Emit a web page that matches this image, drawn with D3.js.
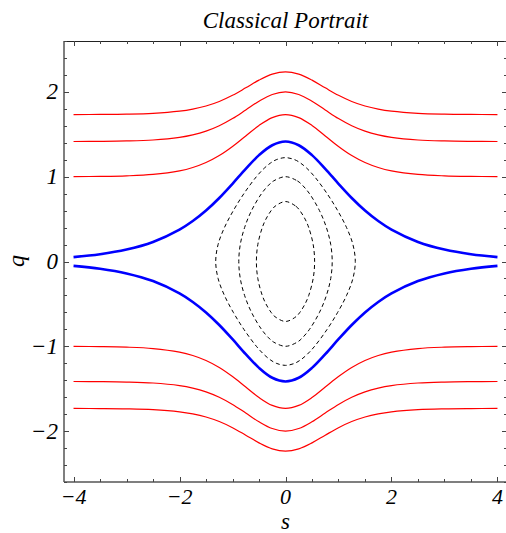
<!DOCTYPE html>
<html><head><meta charset="utf-8">
<script src="https://cdn.jsdelivr.net/npm/d3@7"></script>
<style>body{margin:0;background:#fff}svg{display:block}</style>
</head><body>
<svg id="c" width="506" height="533"></svg>
<script>
// ---- data ----
const title = "Classical Portrait";
const xLabel = "s", yLabel = "q";
const xTicks = [-4, -2, 0, 2, 4];
const yTicks = [-2, -1, 0, 1, 2];
const sGrid = [-4,-3.5,-3,-2.5,-2,-1.75,-1.5,-1.25,-1,-0.75,-0.5,-0.25,0,0.25,0.5,0.75,1,1.25,1.5,1.75,2,2.5,3,3.5,4];
// open orbits (upper half); lower half is the mirror image q -> -q
const qRed1 = [1.0013,1.0036,1.0098,1.0262,1.0683,1.1080,1.1668,1.2493,1.3565,1.4809,1.6040,1.6971,1.7321,1.6971,1.6040,1.4809,1.3565,1.2493,1.1668,1.1080,1.0683,1.0262,1.0098,1.0036,1.0013];
const qRed2 = [1.4152,1.4168,1.4212,1.4329,1.4633,1.4925,1.5367,1.6003,1.6852,1.7870,1.8902,1.9698,2.0000,1.9698,1.8902,1.7870,1.6852,1.6003,1.5367,1.4925,1.4633,1.4329,1.4212,1.4168,1.4152];
const qRed3 = [1.7328,1.7342,1.7377,1.7473,1.7724,1.7966,1.8334,1.8870,1.9596,2.0477,2.1384,2.2091,2.2361,2.2091,2.1384,2.0477,1.9596,1.8870,1.8334,1.7966,1.7724,1.7473,1.7377,1.7342,1.7328];
const qSep  = [0.0518,0.0853,0.1405,0.2306,0.3759,0.4771,0.6012,0.7489,0.9165,1.0923,1.2541,1.3712,1.4142,1.3712,1.2541,1.0923,0.9165,0.7489,0.6012,0.4771,0.3759,0.2306,0.1405,0.0853,0.0518];
// closed orbits: first-quadrant points [s, q], from q-axis to s-axis
const loop1 = [[0,1.2247],[0.1749,1.2],[0.2853,1.16],[0.4010,1.1],[0.5493,1.0],[0.7853,0.8],[0.9845,0.6],[1.1524,0.4],[1.2723,0.2],[1.3170,0]];
const loop2 = [[0,1.0],[0.2244,0.95],[0.3186,0.9],[0.4529,0.8],[0.6412,0.6],[0.7720,0.4],[0.8534,0.2],[0.8814,0]];
const loop3 = [[0,0.7071],[0.1995,0.65],[0.2711,0.6],[0.3695,0.5],[0.4384,0.4],[0.5224,0.2],[0.5493,0]];

const svg = d3.select("#c");
const L = 64, R = 507, T = 41, B = 482;
const x = d3.scaleLinear().domain([-4.18, 4.18]).range([L, R]);
const y = d3.scaleLinear().domain([-2.6, 2.6]).range([B, T]);
const serif = "'Liberation Serif','Times New Roman',serif";

svg.append("defs").append("clipPath").attr("id","clip").append("rect")
  .attr("x",L).attr("y",T).attr("width",R-L).attr("height",B-T);
const plot = svg.append("g").attr("clip-path","url(#clip)");

const line = d3.line().x(d=>x(d[0])).y(d=>y(d[1])).curve(d3.curveCatmullRom);
const lineClosed = d3.line().x(d=>x(d[0])).y(d=>y(d[1])).curve(d3.curveCatmullRomClosed);

function openPts(qs, sign){ return sGrid.map((s,i)=>[s, sign*qs[i]]); }
function loopPts(q1){
  const n = q1.length;
  const pts = [];
  for (let i=0;i<n;i++) pts.push([q1[i][0], q1[i][1]]);
  for (let i=n-2;i>=0;i--) pts.push([q1[i][0], -q1[i][1]]);
  for (let i=1;i<n;i++) pts.push([-q1[i][0], -q1[i][1]]);
  for (let i=n-2;i>=1;i--) pts.push([-q1[i][0], q1[i][1]]);
  return pts;
}

[qRed1,qRed2,qRed3].forEach(qs=>{
  [1,-1].forEach(sg=>{
    plot.append("path").attr("d", line(openPts(qs,sg)))
      .attr("fill","none").attr("stroke","#ff0000").attr("stroke-width",1.2);
  });
});
[1,-1].forEach(sg=>{
  plot.append("path").attr("d", line(openPts(qSep,sg)))
    .attr("fill","none").attr("stroke","#0000ff").attr("stroke-width",2.6);
});
[loop1,loop2,loop3].forEach(lp=>{
  plot.append("path").attr("d", lineClosed(loopPts(lp)))
    .attr("fill","none").attr("stroke","#000").attr("stroke-width",1)
    .attr("stroke-dasharray","4,3");
});

// frame
const frameColor = "#555";
svg.append("line").attr("x1",L).attr("x2",R).attr("y1",T+0.5).attr("y2",T+0.5).attr("stroke","#222").attr("stroke-width",1);
svg.append("line").attr("x1",R-0.5).attr("x2",R-0.5).attr("y1",T).attr("y2",B).attr("stroke","#222").attr("stroke-width",1);
svg.append("line").attr("x1",L).attr("x2",R).attr("y1",B).attr("y2",B).attr("stroke",frameColor).attr("stroke-width",1.5);
svg.append("line").attr("x1",L).attr("x2",L).attr("y1",T).attr("y2",B).attr("stroke",frameColor).attr("stroke-width",1.5);

// ticks
const xMinor = d3.range(-4, 4.01, 0.5);
const yMinor = d3.range(-2.6, 2.61, 0.2).map(v=>Math.round(v*10)/10);
const isMajor = (v, arr)=>arr.some(t=>Math.abs(t-v)<1e-6);
const tg = svg.append("g").attr("stroke","#444").attr("stroke-width",1);
xMinor.forEach(v=>{
  const len = isMajor(v,xTicks)?5:3;
  const px = Math.round(x(v))+0.5;
  tg.append("line").attr("x1",px).attr("x2",px).attr("y1",B).attr("y2",B-len);
  tg.append("line").attr("x1",px).attr("x2",px).attr("y1",T).attr("y2",T+len);
});
yMinor.forEach(v=>{
  const len = isMajor(v,yTicks)?5:3;
  const py = Math.round(y(v))+0.5;
  tg.append("line").attr("x1",L).attr("x2",L+len).attr("y1",py).attr("y2",py);
  tg.append("line").attr("x1",R).attr("x2",R-len).attr("y1",py).attr("y2",py);
});

const fmt = v => v<0 ? "\u2212"+Math.abs(v) : String(v);
svg.append("g").selectAll("text").data(xTicks).join("text")
  .attr("x",d=>x(d)).attr("y",504).attr("text-anchor","middle")
  .attr("font-family",serif).attr("font-style","italic").attr("font-size",22)
  .text(fmt);
svg.append("g").selectAll("text").data(yTicks).join("text")
  .attr("x",58).attr("y",d=>y(d)+7.5).attr("text-anchor","end")
  .attr("font-family",serif).attr("font-style","italic").attr("font-size",23)
  .text(fmt);

svg.append("text").attr("x",285.5).attr("y",28).attr("text-anchor","middle")
  .attr("font-family",serif).attr("font-style","italic").attr("font-size",23)
  .text(title);
svg.append("text").attr("x",285.5).attr("y",529).attr("text-anchor","middle")
  .attr("font-family",serif).attr("font-style","italic").attr("font-size",23)
  .text(xLabel);
svg.append("text").attr("transform","translate(24,261) rotate(-90)").attr("text-anchor","middle")
  .attr("font-family",serif).attr("font-style","italic").attr("font-size",24)
  .text(yLabel);
</script>
</body></html>
